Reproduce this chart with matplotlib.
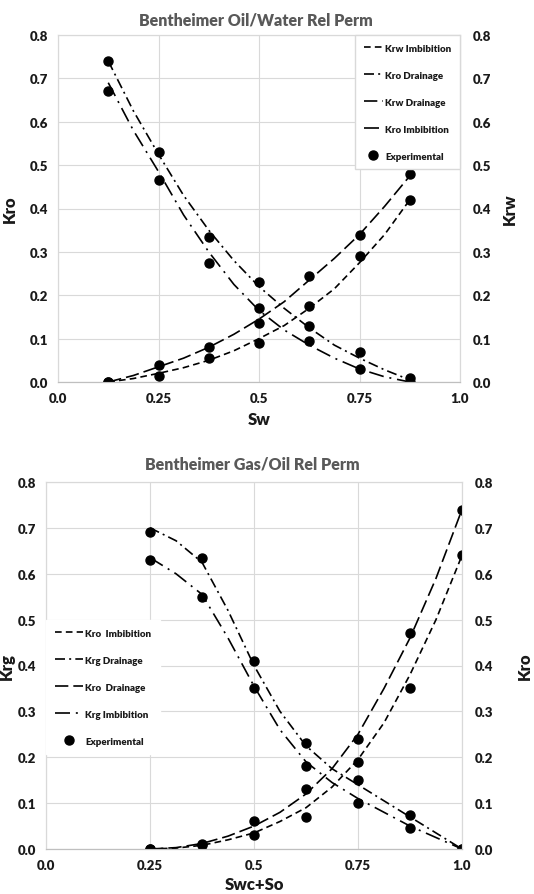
import numpy as np
import matplotlib
matplotlib.use("Agg")
import matplotlib.pyplot as plt
from matplotlib.ticker import FixedLocator, FixedFormatter

plt.rcParams['font.family'] = ['Lato', 'DejaVu Sans']
plt.rcParams['font.weight'] = 'bold'

# ---------------- data: oil/water ----------------
sw_exp = [0.125, 0.25, 0.375, 0.5, 0.625, 0.75, 0.875]
kro_drain_exp = [0.74, 0.53, 0.335, 0.23, 0.13, 0.07, 0.01]
kro_imb_exp = [0.67, 0.465, 0.275, 0.17, 0.095, 0.03, 0.0]
krw_drain_exp = [0.0, 0.04, 0.08, 0.135, 0.245, 0.34, 0.48]
krw_imb_exp = [0.0, 0.013, 0.055, 0.09, 0.175, 0.29, 0.42]

sw_fit = [0.125, 0.1875, 0.25, 0.3125, 0.375, 0.4375, 0.5, 0.5625, 0.625,
          0.6875, 0.75, 0.8125, 0.875]
kro_drain_fit = [0.74, 0.625, 0.525, 0.43, 0.35, 0.28, 0.22, 0.17, 0.125,
                 0.085, 0.055, 0.028, 0.005]
kro_imb_fit = [0.69, 0.58, 0.485, 0.385, 0.30, 0.225, 0.165, 0.12, 0.085,
               0.055, 0.03, 0.012, 0.0]
krw_drain_fit = [0.0, 0.015, 0.035, 0.055, 0.08, 0.11, 0.145, 0.185, 0.235,
                 0.285, 0.34, 0.405, 0.475]
krw_imb_fit = [0.0, 0.008, 0.02, 0.033, 0.05, 0.072, 0.10, 0.13, 0.17,
               0.215, 0.275, 0.34, 0.42]

# ---------------- data: gas/oil ----------------
sl_exp = [0.25, 0.375, 0.5, 0.625, 0.75, 0.875, 1.0]
krg_drain_exp = [0.69, 0.635, 0.41, 0.23, 0.15, 0.075, 0.0]
krg_imb_exp = [0.63, 0.55, 0.35, 0.18, 0.10, 0.045, 0.0]
kro_g_drain_exp = [0.0, 0.01, 0.06, 0.13, 0.24, 0.47, 0.74]
kro_g_imb_exp = [0.0, 0.008, 0.03, 0.07, 0.19, 0.35, 0.64]

sl_fit = [0.25, 0.3125, 0.375, 0.4375, 0.5, 0.5625, 0.625, 0.6875, 0.75,
          0.8125, 0.875, 0.9375, 1.0]
krg_drain_fit = [0.70, 0.672, 0.625, 0.52, 0.40, 0.30, 0.225, 0.175, 0.14,
                 0.105, 0.07, 0.035, 0.0]
krg_imb_fit = [0.635, 0.60, 0.555, 0.46, 0.355, 0.26, 0.19, 0.145, 0.11,
               0.08, 0.05, 0.025, 0.0]
kro_g_drain_fit = [0.0, 0.003, 0.012, 0.028, 0.05, 0.08, 0.12, 0.175, 0.25,
                   0.35, 0.46, 0.59, 0.74]
kro_g_imb_fit = [0.0, 0.002, 0.008, 0.02, 0.035, 0.06, 0.09, 0.135, 0.195,
                 0.275, 0.38, 0.50, 0.64]

x_ticks = [0.0, 0.25, 0.5, 0.75, 1.0]
x_tick_labels = ["0.0", "0.25", "0.5", "0.75", "1.0"]
y_ticks = [0.0, 0.1, 0.2, 0.3, 0.4, 0.5, 0.6, 0.7, 0.8]
y_tick_labels = ["%.1f" % v for v in y_ticks]

# ---------------- styles ----------------
W, H = 534, 895
GRID = "#d9d9d9"
TXT = "#1a1a1a"
LW = 1.2
TICK_FS = 9.5
LEG_PROP = {'size': 7, 'weight': 'heavy'}
short_dash = (0, (4, 2.5))
long_dash = (0, (8, 3))
dash_dot = (0, (6, 2.5, 1.2, 2.5))
long_dash_dot = (0, (9, 3.5, 1.2, 3.5))


def px_axes(fig, left, right, top, bottom):
    return fig.add_axes([left / W, 1 - bottom / H, (right - left) / W,
                         (bottom - top) / H])


def style_axes(ax, ax2):
    for a in (ax, ax2):
        a.set_xlim(0, 1.0)
        a.set_ylim(0, 0.8)
        for s in a.spines.values():
            s.set_color(GRID)
            s.set_linewidth(0.8)
        a.spines['bottom'].set_color("#bfbfbf")
        a.tick_params(length=0, labelsize=TICK_FS, colors=TXT)
    ax.xaxis.set_major_locator(FixedLocator(x_ticks))
    ax.xaxis.set_major_formatter(FixedFormatter(x_tick_labels))
    ax.yaxis.set_major_locator(FixedLocator(y_ticks))
    ax.yaxis.set_major_formatter(FixedFormatter(y_tick_labels))
    ax2.yaxis.set_major_locator(FixedLocator(y_ticks))
    ax2.yaxis.set_major_formatter(FixedFormatter(y_tick_labels))
    ax.tick_params(axis='y', pad=7)
    ax.tick_params(axis='x', pad=7)
    ax2.tick_params(axis='y', pad=9)
    for lab in ax.get_xticklabels() + ax.get_yticklabels() + ax2.get_yticklabels():
        lab.set_fontweight('heavy')
    ax.grid(True, color=GRID, lw=0.8)
    ax.set_axisbelow(True)


fig = plt.figure(figsize=(W / 100, H / 100), dpi=100)

# ================= top chart =================
ax1 = px_axes(fig, 58, 460, 36, 383)
ax1b = ax1.twinx()
style_axes(ax1, ax1b)

h_kro_d, = ax1.plot(sw_fit, kro_drain_fit, color='k', lw=LW, ls=dash_dot)
h_kro_i, = ax1.plot(sw_fit, kro_imb_fit, color='k', lw=LW, ls=long_dash_dot)
h_krw_d, = ax1b.plot(sw_fit, krw_drain_fit, color='k', lw=LW, ls=long_dash)
h_krw_i, = ax1b.plot(sw_fit, krw_imb_fit, color='k', lw=LW, ls=short_dash)
h_exp, = ax1.plot(sw_exp, kro_drain_exp, 'o', color='k', ms=6.5)
ax1.plot(sw_exp, kro_imb_exp, 'o', color='k', ms=6.5)
ax1b.plot(sw_exp, krw_drain_exp, 'o', color='k', ms=6.5)
ax1b.plot(sw_exp, krw_imb_exp, 'o', color='k', ms=6.5)

leg = ax1b.legend([h_krw_i, h_kro_d, h_krw_d, h_kro_i, h_exp],
                  ["Krw Imbibition", "Kro Drainage", "Krw Drainage",
                   "Kro Imbibition", "Experimental"],
                  loc='upper right', bbox_to_anchor=(1.0, 1.0),
                  borderaxespad=0, prop=LEG_PROP, handlelength=2.0,
                  handletextpad=0.2, labelspacing=1.85, borderpad=0.9,
                  numpoints=1, fancybox=False, framealpha=1,
                  facecolor='white', edgecolor=GRID)
for t in leg.get_texts():
    t.set_color(TXT)

ax1.set_ylabel("Kro", fontsize=12, color=TXT, fontweight='heavy')
ax1b.set_ylabel("Krw", fontsize=12, color=TXT, fontweight='heavy')
ax1.yaxis.set_label_coords(-0.1, 0.5)
ax1b.yaxis.set_label_coords(1.104, 0.5)
ax1.set_xlabel("Sw", fontsize=12, color=TXT, fontweight='heavy')
ax1.xaxis.set_label_coords(0.5, -0.085)
fig.text(256 / W, 1 - 21 / H, "Bentheimer Oil/Water Rel Perm", ha='center',
         va='center', fontsize=11.5, color="#595959", fontweight='heavy')

# ================= bottom chart =================
ax2 = px_axes(fig, 46, 462, 483, 850)
ax2b = ax2.twinx()
style_axes(ax2, ax2b)

g_krg_d, = ax2.plot(sl_fit, krg_drain_fit, color='k', lw=LW, ls=dash_dot)
g_krg_i, = ax2.plot(sl_fit, krg_imb_fit, color='k', lw=LW, ls=long_dash_dot)
g_kro_d, = ax2b.plot(sl_fit, kro_g_drain_fit, color='k', lw=LW, ls=long_dash)
g_kro_i, = ax2b.plot(sl_fit, kro_g_imb_fit, color='k', lw=LW, ls=short_dash)
g_exp, = ax2.plot(sl_exp, krg_drain_exp, 'o', color='k', ms=6.5)
ax2.plot(sl_exp, krg_imb_exp, 'o', color='k', ms=6.5)
ax2b.plot(sl_exp, kro_g_drain_exp, 'o', color='k', ms=6.5)
ax2b.plot(sl_exp, kro_g_imb_exp, 'o', color='k', ms=6.5)

leg2 = ax2b.legend([g_kro_i, g_krg_d, g_kro_d, g_krg_i, g_exp],
                   ["Kro  Imbibition", "Krg Drainage", "Kro  Drainage",
                    "Krg Imbibition", "Experimental"],
                   loc='upper left', bbox_to_anchor=(0.0, 0.624),
                   borderaxespad=0, prop=LEG_PROP, handlelength=2.9,
                   handletextpad=0.2, labelspacing=1.85, borderpad=0.9,
                   numpoints=1, fancybox=False, framealpha=1,
                   facecolor='white', edgecolor='white')
for t in leg2.get_texts():
    t.set_color(TXT)

ax2.set_ylabel("Krg", fontsize=12, color=TXT, fontweight='heavy')
ax2b.set_ylabel("Kro", fontsize=12, color=TXT, fontweight='heavy')
ax2.yaxis.set_label_coords(-0.074, 0.5)
ax2b.yaxis.set_label_coords(1.132, 0.5)
ax2.set_xlabel("Swc+So", fontsize=12, color=TXT, fontweight='heavy')
ax2.xaxis.set_label_coords(0.5, -0.073)
fig.text(252 / W, 1 - 465 / H, "Bentheimer Gas/Oil Rel Perm", ha='center',
         va='center', fontsize=11.5, color="#595959", fontweight='heavy')

fig.savefig("out.png", dpi=100)
